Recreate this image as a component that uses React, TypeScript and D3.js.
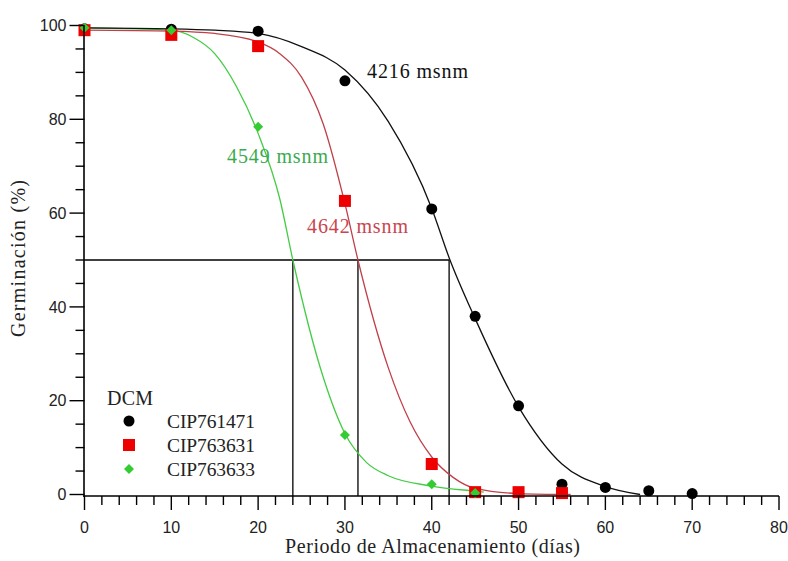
import React from "react";
import * as d3 from "d3";

// Observed data
const daysBlack = [0, 10, 20, 30, 40, 45, 50, 55, 60, 65, 70];
const germBlack = [99.3, 99.2, 98.8, 88.2, 60.9, 38, 18.9, 2.2, 1.5, 0.8, 0.2];
const daysRed = [0, 10, 20, 30, 40, 45, 50, 55];
const germRed = [99, 98, 95.6, 62.6, 6.5, 0.5, 0.5, 0.3];
const daysGreen = [0, 10, 20, 30, 40, 45];
const germGreen = [99.5, 99, 78.4, 12.7, 2.2, 0.3];

// Fitted curves
const fitBlackX = [0, 10, 15, 20, 25, 30, 35, 40, 42, 45, 50, 55, 60, 64];
const fitBlackY = [99.5, 99.3, 99, 98.3, 95.5, 90.5, 79.5, 61, 50.5, 37.5, 18.7, 6.5, 1.7, 0];
const fitRedX = [0, 10, 15, 20, 22.5, 25, 27.5, 30, 31.5, 35, 37.5, 40, 42.5, 45, 50, 56];
const fitRedY = [99, 98.8, 98.3, 96.5, 94, 89, 79, 62, 50, 27, 15.5, 8, 3.6, 1.3, 0.2, 0];
const fitGreenX = [0, 10, 12.5, 15, 17.5, 20, 22.5, 24, 27.5, 30, 32.5, 35, 40, 45, 46];
const fitGreenY = [99.5, 99, 97.5, 94, 87, 77, 63, 50, 25, 13, 6.8, 4, 1.8, 0.7, 0.5];

// Reference lines (50% germination)
const p50Days = [24, 31.5, 42];
const p50Level = 50;

const xTicks = [0, 10, 20, 30, 40, 50, 60, 70, 80];
const yTicks = [0, 20, 40, 60, 80, 100];
const legendLabels = ["CIP761471", "CIP763631", "CIP763633"];
const annotations = ["4216 msnm", "4549 msnm", "4642 msnm"];

const W = 788, H = 561;
const serif = "'Liberation Serif', 'Times New Roman', serif";
const sans = "'Liberation Sans', Arial, sans-serif";

export default function App() {
  const x = d3.scaleLinear().domain([0, 80]).range([84.5, 779]);
  const y = d3.scaleLinear().domain([0, 100]).range([494.5, 25.5]);
  const axisY = 496;

  const line = d3
    .line<[number, number]>()
    .x((d) => x(d[0]))
    .y((d) => y(d[1]))
    .curve(d3.curveMonotoneX);

  const zip = (a: number[], b: number[]) => a.map((v, i) => [v, b[i]] as [number, number]);

  const minorX = d3.range(0, 81, 2).filter((v) => v % 10 !== 0);
  const minorY = d3.range(0, 101, 5).filter((v) => v % 20 !== 0);

  const circle = (cx: number, cy: number, key: string) => (
    <circle key={key} cx={cx} cy={cy} r={5.5} fill="#000" />
  );
  const square = (cx: number, cy: number, key: string) => (
    <rect key={key} x={cx - 6} y={cy - 6} width={12} height={12} fill="#ee0000" />
  );
  const diamond = (cx: number, cy: number, key: string) => (
    <path key={key} d={`M${cx},${cy - 5}L${cx + 5},${cy}L${cx},${cy + 5}L${cx - 5},${cy}Z`} fill="#33cc33" />
  );

  const maxP50 = d3.max(p50Days) as number;

  return (
    <svg width={W} height={H} style={{ position: "absolute", left: 0, top: 0, background: "#fff" }}>
      <rect width={W} height={H} fill="#fff" />
      {/* reference lines */}
      <line x1={x(0)} x2={x(maxP50)} y1={y(p50Level)} y2={y(p50Level)} stroke="#000" strokeWidth={1.3} />
      {p50Days.map((d, i) => (
        <line key={i} x1={x(d)} x2={x(d)} y1={y(p50Level)} y2={axisY} stroke="#000" strokeWidth={1.3} />
      ))}
      {/* fitted curves */}
      <path d={line(zip(fitGreenX, fitGreenY)) || ""} fill="none" stroke="#44cc44" strokeWidth={1.3} />
      <path d={line(zip(fitRedX, fitRedY)) || ""} fill="none" stroke="#c0404a" strokeWidth={1.3} />
      <path d={line(zip(fitBlackX, fitBlackY)) || ""} fill="none" stroke="#111" strokeWidth={1.3} />
      {/* points */}
      {daysBlack.map((d, i) => circle(x(d), y(germBlack[i]), "b" + i))}
      {daysRed.map((d, i) => square(x(d), y(germRed[i]), "r" + i))}
      {daysGreen.map((d, i) => diamond(x(d), y(germGreen[i]), "g" + i))}

      {/* axes */}
      <line x1={x(0) - 0.5} x2={x(0) - 0.5} y1={y(100)} y2={axisY + 1} stroke="#000" strokeWidth={1.6} />
      <line x1={x(0) - 1} x2={x(80)} y1={axisY} y2={axisY} stroke="#000" strokeWidth={1.6} />
      {yTicks.map((t) => (
        <g key={"yt" + t}>
          <line x1={x(0) - 15} x2={x(0)} y1={y(t)} y2={y(t)} stroke="#000" strokeWidth={1.4} />
          <text x={x(0) - 18} y={y(t)} dy="0.36em" textAnchor="end" fontFamily={sans} fontSize={16} fill="#222">
            {t}
          </text>
        </g>
      ))}
      {minorY.map((t) => (
        <line key={"ym" + t} x1={x(0) - 9} x2={x(0)} y1={y(t)} y2={y(t)} stroke="#000" strokeWidth={1.4} />
      ))}
      {xTicks.map((t) => (
        <g key={"xt" + t}>
          <line x1={x(t)} x2={x(t)} y1={axisY} y2={axisY + 14} stroke="#000" strokeWidth={1.4} />
          <text x={x(t)} y={533} textAnchor="middle" fontFamily={sans} fontSize={16} fill="#222">
            {t}
          </text>
        </g>
      ))}
      {minorX.map((t) => (
        <line key={"xm" + t} x1={x(t)} x2={x(t)} y1={axisY} y2={axisY + 9} stroke="#000" strokeWidth={1.4} />
      ))}

      {/* axis titles */}
      <text x={285} y={553} textLength={295} lengthAdjust="spacing" fontFamily={serif} fontSize={20} fill="#222">
        Periodo de Almacenamiento (días)
      </text>
      <text
        transform={`translate(25,337) rotate(-90)`}
        textLength={157}
        lengthAdjust="spacing"
        fontFamily={serif}
        fontSize={20}
        fill="#222"
      >
        Germinación (%)
      </text>

      {/* annotations */}
      <text x={367} y={78} textLength={101} lengthAdjust="spacing" fontFamily={serif} fontSize={20} fill="#111">{annotations[0]}</text>
      <text x={227} y={163} textLength={101} lengthAdjust="spacing" fontFamily={serif} fontSize={20} fill="#3aaa50">{annotations[1]}</text>
      <text x={307} y={233} textLength={101} lengthAdjust="spacing" fontFamily={serif} fontSize={20} fill="#c8464e">{annotations[2]}</text>

      {/* legend */}
      <text x={107} y={405} textLength={46} lengthAdjust="spacing" fontFamily={serif} fontSize={20} fill="#222">DCM</text>
      {legendLabels.map((lab, i) => {
        const cy = 421 + i * 24;
        const mk = i === 0 ? circle(129, cy, "lm" + i) : i === 1 ? square(129, cy, "lm" + i) : diamond(129, cy, "lm" + i);
        return (
          <g key={lab}>
            {mk}
            <text x={167} y={cy} dy="0.35em" textLength={88} lengthAdjust="spacing" fontFamily={serif} fontSize={19.5} fill="#222">
              {lab}
            </text>
          </g>
        );
      })}
    </svg>
  );
}
